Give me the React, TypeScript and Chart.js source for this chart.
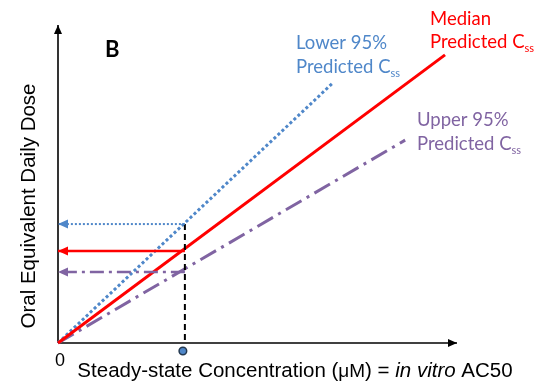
import { useEffect, useRef } from "react";
import { Chart, registerables } from "chart.js";

Chart.register(...registerables);

// Axis extents (arbitrary units: concentration on x, dose on y)
const xMax = 10;
const yMax = 10;

// Straight dose-concentration relationships through the origin: [x, y] pairs
const medianLine = [
  [0, 0],
  [9.7, 9.06],
];
const lower95Line = [
  [0, 0],
  [6.89, 8.18],
];
const upper95Line = [
  [0, 0],
  [8.7, 6.38],
];

// In vitro AC50 and the oral equivalent doses read back at that concentration
const ac50 = 3.18;
const doseLower = 3.74;
const doseMedian = 2.89;
const doseUpper = 2.23;

const RED = "#ff0000";
const BLUE = "#4f87c9";
const PURPLE = "#8064a2";

const toPts = (arr: number[][]) => arr.map(([x, y]) => ({ x, y }));

type Seg = { text: string; font: string; dy?: number };

function drawSegments(ctx: CanvasRenderingContext2D, segs: Seg[], x: number, y: number, color: string) {
  ctx.fillStyle = color;
  ctx.textAlign = "left";
  ctx.textBaseline = "alphabetic";
  let cx = x;
  for (const s of segs) {
    ctx.font = s.font;
    ctx.fillText(s.text, cx, y + (s.dy || 0));
    cx += ctx.measureText(s.text).width;
  }
}

function segWidth(ctx: CanvasRenderingContext2D, segs: Seg[]) {
  let w = 0;
  for (const s of segs) {
    ctx.font = s.font;
    w += ctx.measureText(s.text).width;
  }
  return w;
}

// Filled arrowheads at the last point of any dataset that asks for one
const arrowHeadPlugin = {
  id: "arrowHeads",
  afterDatasetsDraw(chart: any) {
    const ctx = chart.ctx as CanvasRenderingContext2D;
    chart.data.datasets.forEach((ds: any, i: number) => {
      if (!ds.arrowHead) return;
      const pts = chart.getDatasetMeta(i).data;
      if (pts.length < 2) return;
      const a = pts[pts.length - 2];
      const b = pts[pts.length - 1];
      const ang = Math.atan2(b.y - a.y, b.x - a.x);
      const len = ds.arrowHead.length;
      const half = ds.arrowHead.width / 2;
      ctx.save();
      ctx.translate(b.x, b.y);
      ctx.rotate(ang);
      ctx.beginPath();
      ctx.moveTo(0, 0);
      ctx.lineTo(-len, -half);
      ctx.lineTo(-len, half);
      ctx.closePath();
      ctx.fillStyle = ds.borderColor;
      ctx.fill();
      ctx.restore();
    });

    // AC50 marker sitting just under the concentration axis
    const px = chart.scales.x.getPixelForValue(ac50) - 2;
    const py = chart.chartArea.bottom + 8;
    ctx.save();
    ctx.beginPath();
    ctx.arc(px, py, 3.8, 0, Math.PI * 2);
    ctx.fillStyle = BLUE;
    ctx.fill();
    ctx.lineWidth = 1.5;
    ctx.strokeStyle = "#24384f";
    ctx.stroke();
    ctx.restore();
  },
};

const CAL = "Lato, 'Open Sans', sans-serif";
const ARIAL = "'Liberation Sans', Arial, sans-serif";

function predictedCss(size: number): Seg[] {
  return [
    { text: "Predicted C", font: `${size}px ${CAL}` },
    { text: "ss", font: `${Math.round(size * 0.62)}px ${CAL}`, dy: 4 },
  ];
}

// Annotation text: panel letter, curve labels, axis titles
const labelPlugin = {
  id: "labels",
  afterDraw(chart: any) {
    const ctx = chart.ctx as CanvasRenderingContext2D;
    const sz = 18.5;
    ctx.save();

    drawSegments(ctx, [{ text: "B", font: `bold 22px ${CAL}` }], 105, 57, "#000");

    drawSegments(ctx, [{ text: "Median", font: `${sz}px ${CAL}` }], 430, 25, RED);
    drawSegments(ctx, predictedCss(sz), 430, 48, RED);

    drawSegments(ctx, [{ text: "Lower 95%", font: `${sz}px ${CAL}` }], 296, 49, BLUE);
    drawSegments(ctx, predictedCss(sz), 296, 73, BLUE);

    drawSegments(ctx, [{ text: "Upper 95%", font: `${sz}px ${CAL}` }], 417, 126, PURPLE);
    drawSegments(ctx, predictedCss(sz), 417, 150, PURPLE);

    // origin label
    const x0 = chart.scales.x.getPixelForValue(0);
    ctx.font = `18px ${ARIAL}`;
    ctx.fillStyle = "#000";
    ctx.textAlign = "center";
    ctx.fillText("0", x0 + 2, 366);

    // x-axis title
    const f = `20.5px ${ARIAL}`;
    const xt: Seg[] = [
      { text: "Steady-state Concentration (", font: f },
      { text: "\u03BCM", font: `19px ${ARIAL}` },
      { text: ") = ", font: f },
      { text: "in vitro", font: `italic ${f}` },
      { text: " AC50", font: f },
    ];
    const w = segWidth(ctx, xt);
    drawSegments(ctx, xt, 295 - w / 2, 377, "#000");

    // y-axis title
    ctx.save();
    ctx.translate(35, 206);
    ctx.rotate(-Math.PI / 2);
    ctx.font = f;
    ctx.textAlign = "center";
    ctx.fillStyle = "#000";
    ctx.fillText("Oral Equivalent Daily Dose", 0, 0);
    ctx.restore();

    ctx.restore();
  },
};

export default function App() {
  const ref = useRef<HTMLCanvasElement | null>(null);

  useEffect(() => {
    if (!ref.current) return;
    const line = (data: any[], color: string, width: number, dash: number[], extra: any = {}) => ({
      data,
      showLine: true,
      borderColor: color,
      backgroundColor: color,
      borderWidth: width,
      borderDash: dash,
      pointRadius: 0,
      clip: false,
      ...extra,
    });

    const chart = new Chart(ref.current, {
      type: "scatter",
      data: {
        datasets: [
          // read-back arrows to the dose axis
          line(toPts([[ac50, doseMedian], [0, doseMedian]]), RED, 2.5, [], { arrowHead: { length: 10, width: 9 } }),
          line(toPts([[ac50, doseLower], [0, doseLower]]), BLUE, 2, [2, 2], { arrowHead: { length: 10, width: 9 } }),
          line(toPts([[ac50, doseUpper], [0, doseUpper]]), PURPLE, 2.5, [14, 5, 3, 5], { arrowHead: { length: 10, width: 9 } }),
          // AC50 drop line
          line(toPts([[ac50, doseLower], [ac50, 0]]), "#000", 2, [6, 4]),
          // predicted Css relationships
          line(toPts(medianLine), RED, 3, []),
          line(toPts(lower95Line), BLUE, 3, [3, 2.5]),
          line(toPts(upper95Line), PURPLE, 3, [18, 6, 3, 6]),
          // axes
          line(toPts([[0, 0], [xMax, 0]]), "#000", 1.6, [], { arrowHead: { length: 9, width: 8 } }),
          line(toPts([[0, 0], [0, yMax]]), "#000", 1.6, [], { arrowHead: { length: 9, width: 8 } }),
        ] as any,
      },
      options: {
        animation: false,
        responsive: false,
        maintainAspectRatio: false,
        layout: { padding: { left: 58, right: 79, top: 25, bottom: 38 } },
        scales: {
          x: { type: "linear", min: 0, max: xMax, display: false },
          y: { type: "linear", min: 0, max: yMax, display: false },
        },
        plugins: { legend: { display: false }, tooltip: { enabled: false } },
        events: [],
      },
      plugins: [arrowHeadPlugin, labelPlugin],
    });
    return () => chart.destroy();
  }, []);

  return (
    <div style={{ position: "fixed", left: 0, top: 0, width: 536, height: 381, background: "#fff" }}>
      <canvas ref={ref} width={536} height={381} style={{ width: 536, height: 381 }} />
    </div>
  );
}
